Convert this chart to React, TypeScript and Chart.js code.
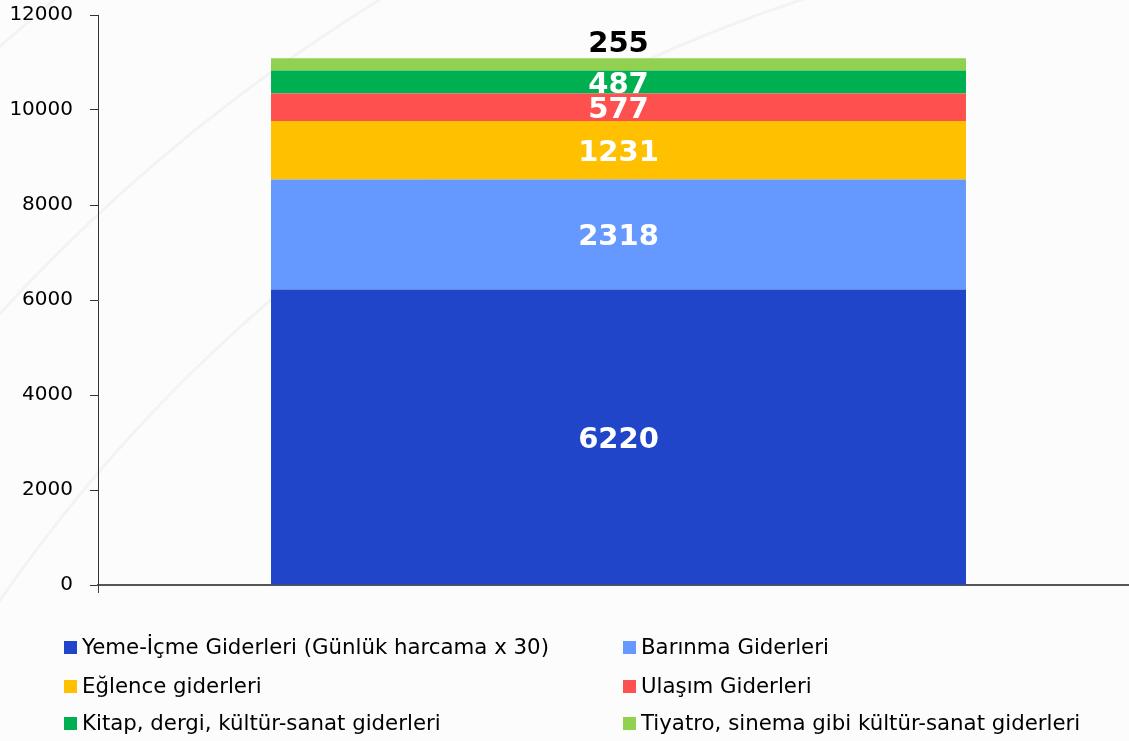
import React, { useEffect, useRef } from "react";
import { Chart, registerables } from "chart.js";

Chart.register(...registerables);

const categories = [""];
const seriesNames = [
  "Yeme-İçme Giderleri (Günlük harcama x 30)",
  "Barınma Giderleri",
  "Eğlence giderleri",
  "Ulaşım Giderleri",
  "Kitap, dergi, kültür-sanat giderleri",
  "Tiyatro, sinema gibi kültür-sanat giderleri",
];
const yemeIcme = [6220];
const barinma = [2318];
const eglence = [1231];
const ulasim = [577];
const kitap = [487];
const tiyatro = [255];
const seriesColors = ["#2045C8", "#6699FF", "#FFC000", "#FF5050", "#00B050", "#92D050"];
const yTicks = [0, 2000, 4000, 6000, 8000, 10000, 12000];

const bgPlugin = {
  id: "bg",
  beforeDraw(chart: any) {
    const ctx = chart.ctx;
    ctx.save();
    ctx.fillStyle = "#fcfcfc";
    ctx.fillRect(0, 0, chart.width, chart.height);
    ctx.strokeStyle = "rgba(0,0,0,0.035)";
    ctx.lineWidth = 3;
    [1581, 1760, 1950].forEach((r) => {
      ctx.beginPath();
      ctx.arc(1300, 1500, r, 0, Math.PI * 2);
      ctx.stroke();
    });
    ctx.restore();
  },
};

const valueLabelPlugin = {
  id: "valueLabels",
  afterDatasetsDraw(chart: any) {
    const ctx = chart.ctx;
    ctx.save();
    ctx.font = "bold 29px 'DejaVu Sans'";
    ctx.textAlign = "center";
    ctx.textBaseline = "middle";
    const n = chart.data.datasets.length;
    chart.data.datasets.forEach((ds: any, i: number) => {
      const meta = chart.getDatasetMeta(i);
      meta.data.forEach((bar: any, j: number) => {
        const p = bar.getProps(["x", "y", "base"], true);
        const v = ds.data[j];
        if (i === n - 1) {
          ctx.fillStyle = "#000000";
          ctx.fillText(String(v), p.x, p.y - 14);
        } else {
          ctx.fillStyle = "#ffffff";
          ctx.fillText(String(v), p.x, (p.y + p.base) / 2 + 3);
        }
      });
    });
    ctx.restore();
  },
};

const legendPlugin = {
  id: "gridLegend",
  afterDraw(chart: any) {
    const ctx = chart.ctx;
    ctx.save();
    ctx.font = "21.3px 'DejaVu Sans'";
    ctx.textBaseline = "middle";
    ctx.textAlign = "left";
    const colX = [64, 623];
    const rowY = [647, 686, 723];
    chart.data.datasets.forEach((ds: any, i: number) => {
      const col = i % 2;
      const row = Math.floor(i / 2);
      const x = colX[col];
      const y = rowY[row];
      ctx.fillStyle = ds.backgroundColor;
      ctx.fillRect(x, y - 6, 13, 13);
      ctx.fillStyle = "#000000";
      ctx.fillText(ds.label, x + 18, y + 1);
    });
    ctx.restore();
  },
};

export default function App() {
  const ref = useRef<HTMLCanvasElement | null>(null);
  useEffect(() => {
    document.body.style.margin = "0";
    const values = [yemeIcme, barinma, eglence, ulasim, kitap, tiyatro];
    const chart = new Chart(ref.current as HTMLCanvasElement, {
      type: "bar",
      data: {
        labels: categories,
        datasets: values.map((d, i) => ({
          label: seriesNames[i],
          data: d,
          backgroundColor: seriesColors[i],
          borderWidth: 0,
          barPercentage: 0.6676,
          categoryPercentage: 1,
        })),
      },
      options: {
        responsive: false,
        animation: false,
        devicePixelRatio: 1,
        layout: { padding: { top: 15, bottom: 148, left: 0, right: 0 } },
        plugins: {
          legend: { display: false },
          tooltip: { enabled: false },
        },
        scales: {
          x: {
            stacked: true,
            ticks: { display: false },
            grid: {
              display: true,
              drawOnChartArea: false,
              drawTicks: true,
              tickLength: 8,
              color: "#404040",
            },
            border: { display: true, color: "#555555", width: 2 },
            afterFit: (s: any) => {
              s.height = 8;
              s.paddingLeft = 0;
              s.paddingRight = 0;
            },
          },
          y: {
            stacked: true,
            min: 0,
            max: 12000,
            afterBuildTicks: (s: any) => {
              s.ticks = yTicks.map((v) => ({ value: v }));
            },
            ticks: {
              color: "#000000",
              padding: 17,
              font: { family: "'DejaVu Sans'", size: 20 },
              callback: (v: any) => String(v),
            },
            grid: {
              display: true,
              drawOnChartArea: false,
              drawTicks: true,
              tickLength: 8,
              color: "#333333",
            },
            border: { display: true, color: "#333333", width: 1 },
            afterFit: (s: any) => {
              s.width = 98;
              s.paddingTop = 0;
              s.paddingBottom = 0;
            },
          },
        },
      },
      plugins: [bgPlugin, valueLabelPlugin, legendPlugin],
    });
    return () => chart.destroy();
  }, []);
  return (
    <div style={{ width: 1129, height: 741, overflow: "hidden", position: "relative" }}>
      <canvas ref={ref} width={1139} height={741} style={{ display: "block" }} />
    </div>
  );
}
